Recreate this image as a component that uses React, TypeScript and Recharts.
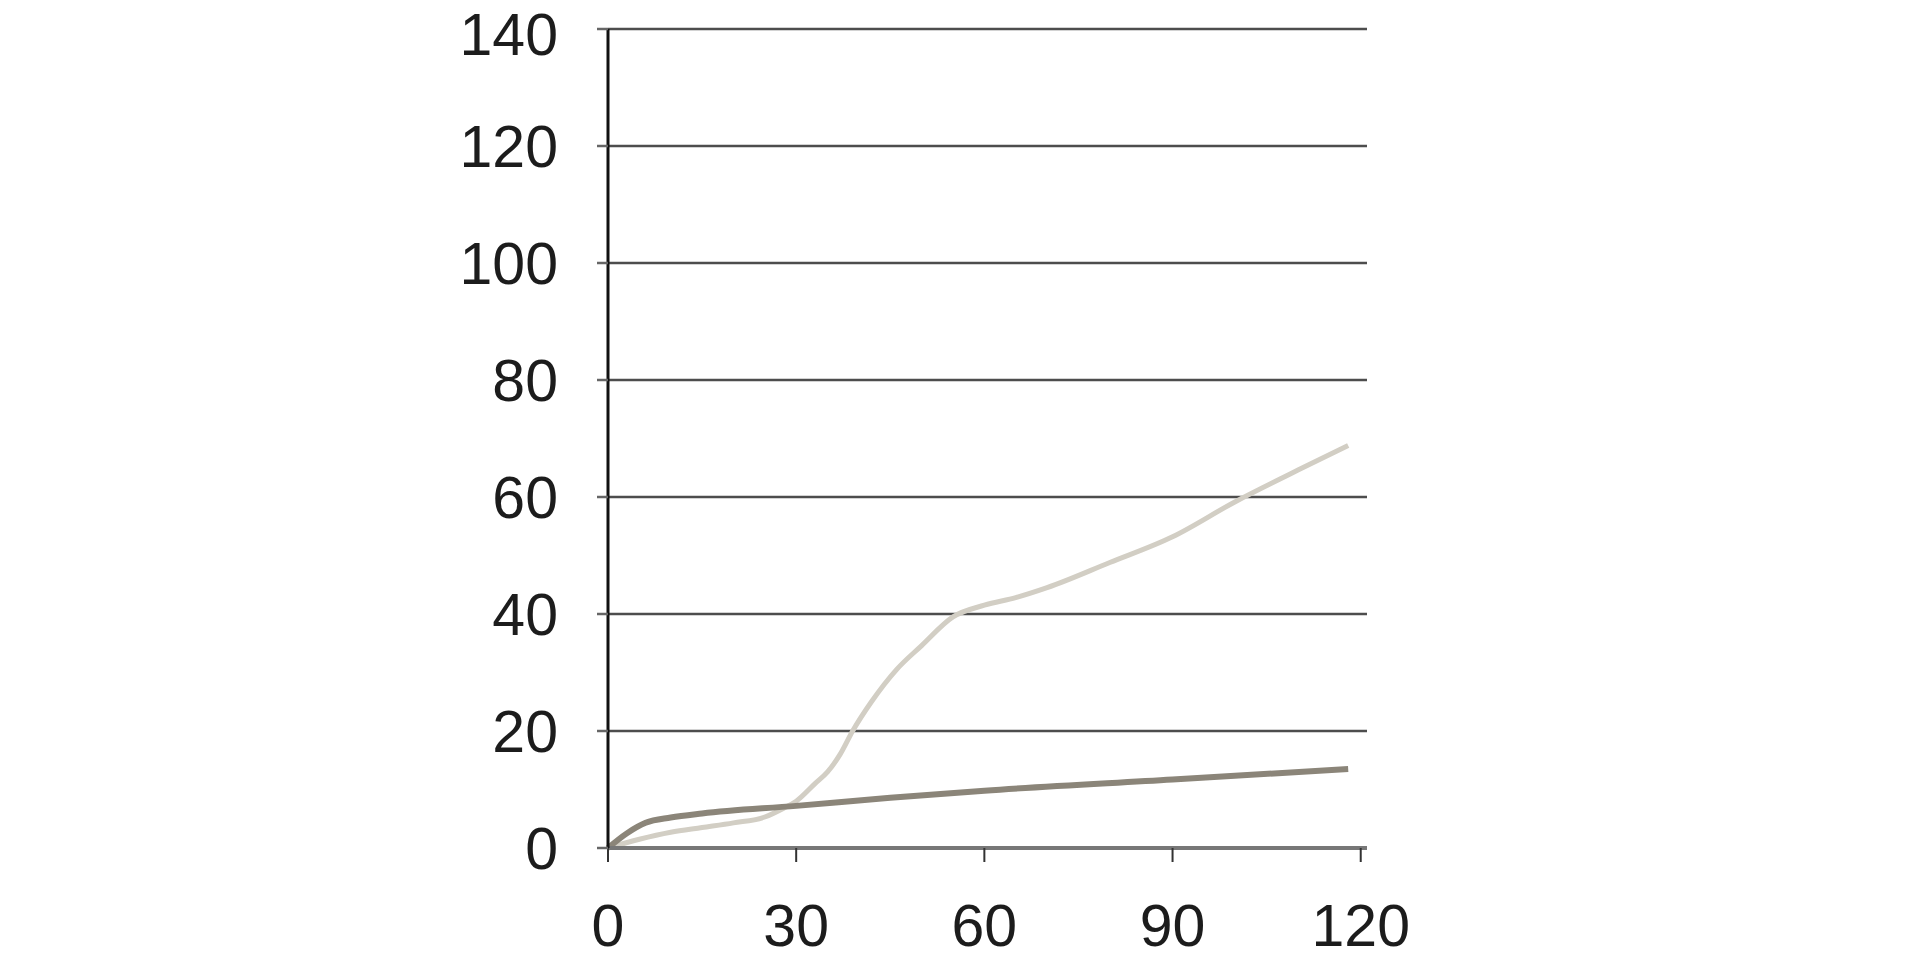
import { LineChart, Line, XAxis, YAxis, CartesianGrid } from 'recharts'

// light curve (steep rise after ~30)
const lightX = [0, 5, 10, 15, 20, 25, 28, 30, 33, 35, 37, 39, 42, 46, 50, 55, 60, 65, 70, 80, 90, 100, 110, 118]
const lightY = [0, 1.5, 2.7, 3.5, 4.3, 5.3, 6.8, 8, 11, 13, 16, 20, 25, 30.5, 34.6, 39.5, 41.5, 42.8, 44.5, 48.8, 53.2, 59.2, 64.6, 68.8]

// dark curve (slow, nearly linear)
const darkX = [0, 3, 6, 10, 15, 30, 45, 60, 90, 118]
const darkY = [0, 2.5, 4.3, 5.2, 5.9, 7.2, 8.6, 9.8, 11.7, 13.5]

const xTicks = [0, 30, 60, 90, 120]
const yTicks = [0, 20, 40, 60, 80, 100, 120, 140]

const lightData = lightX.map((x, i) => ({ x, y: lightY[i] }))
const darkData = darkX.map((x, i) => ({ x, y: darkY[i] }))

const font = '"Liberation Sans", Arial, Helvetica, sans-serif'
const tickStyle = { fill: '#1c1c1c', fontSize: 59, fontFamily: font }

export default function App() {
  return (
    <div style={{ position: 'absolute', left: 0, top: 0, width: 1920, height: 960, background: '#fff' }}>
      <LineChart width={1920} height={960} margin={{ top: 29, right: 553, left: 488, bottom: 12 }}>
        <CartesianGrid vertical={false} stroke="#4d4d4d" strokeWidth={2.5} />
        <XAxis
          type="number"
          dataKey="x"
          domain={[0, 121]}
          ticks={xTicks}
          height={100}
          tick={tickStyle}
          tickSize={14}
          tickMargin={42}
          axisLine={{ stroke: '#777', strokeWidth: 4 }}
          tickLine={{ stroke: '#333', strokeWidth: 2 }}
          allowDuplicatedCategory={false}
        />
        <YAxis
          type="number"
          dataKey="y"
          domain={[0, 140]}
          ticks={yTicks}
          width={120}
          tick={tickStyle}
          tickSize={11}
          tickMargin={39}
          axisLine={{ stroke: '#111', strokeWidth: 3 }}
          tickLine={{ stroke: '#666', strokeWidth: 2.5 }}
        />
        <Line
          data={lightData}
          dataKey="y"
          type="monotone"
          stroke="#d2cec4"
          strokeWidth={5}
          dot={false}
          isAnimationActive={false}
        />
        <Line
          data={darkData}
          dataKey="y"
          type="monotone"
          stroke="#8b8579"
          strokeWidth={6}
          dot={false}
          isAnimationActive={false}
        />
      </LineChart>
    </div>
  )
}
